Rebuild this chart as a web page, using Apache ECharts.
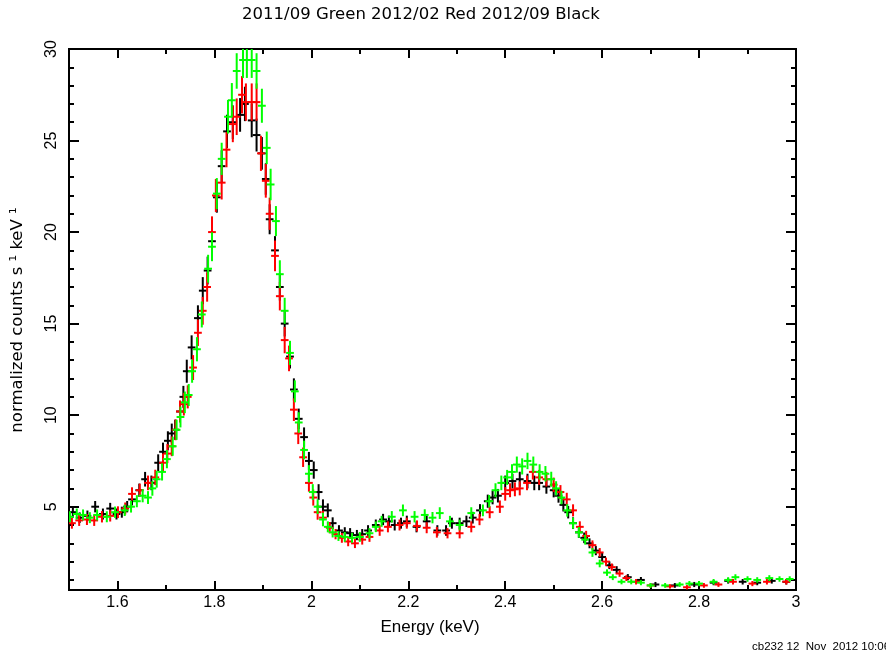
<!DOCTYPE html>
<html>
<head>
<meta charset="utf-8">
<script src="https://cdn.jsdelivr.net/npm/echarts@6/dist/echarts.min.js"></script>
<style>
html,body{margin:0;padding:0;background:#fff;}
#c{width:886px;height:657px;}
</style>
</head>
<body>
<div id="c"></div>
<script>
// ---------- DATA ----------
const titleText = "2011/09 Green 2012/02 Red 2012/09 Black";
const xTitle = "Energy (keV)";
const yTitle = "normalized counts s \u00B9 keV \u00B9";
const stampText = "cb232 12  Nov  2012 10:06";

const xMajorTicks = [1.6, 1.8, 2, 2.2, 2.4, 2.6, 2.8, 3];
const xMinorTicks = [1.5, 1.6, 1.7, 1.8, 1.9, 2, 2.1, 2.2, 2.3, 2.4, 2.5, 2.6, 2.7, 2.8, 2.9, 3];
const yMajorTicks = [5, 10, 15, 20, 25, 30];
const yMinorTicks = [1,2,3,4,5,6,7,8,9,10,11,12,13,14,15,16,17,18,19,20,21,22,23,24,25,26,27,28,29,30];

const binHalfWidth = 0.008; // keV

// 2012/09 (black)
const blackE = [1.508,1.522,1.538,1.554,1.570,1.585,1.598,1.609,1.620,1.630,1.645,1.657,1.670,1.684,1.694,1.704,1.712,1.719,1.729,1.736,1.743,1.753,1.766,1.776,1.786,1.795,1.805,1.815,1.826,1.838,1.853,1.863,1.877,1.887,1.898,1.906,1.914,1.925,1.935,1.945,1.956,1.964,1.974,1.985,1.995,2.005,2.015,2.024,2.034,2.044,2.057,2.069,2.080,2.094,2.105,2.117,2.133,2.148,2.160,2.172,2.185,2.197,2.217,2.238,2.260,2.278,2.290,2.306,2.320,2.333,2.348,2.364,2.374,2.385,2.400,2.415,2.430,2.446,2.460,2.470,2.485,2.500,2.510,2.520,2.530,2.540,2.552,2.563,2.574,2.587,2.600,2.615,2.630,2.653,2.680,2.710,2.750,2.790,2.830,2.860,2.890,2.920,2.950,2.980];
const blackY = [4.7,4.4,4.5,5.0,4.6,4.9,4.6,4.7,5.0,5.4,5.9,6.5,6.3,7.4,8.0,8.6,9.0,9.2,10.2,11.0,12.4,13.7,15.3,16.8,17.9,19.5,21.9,23.6,25.5,26.0,26.4,27.0,26.1,25.3,24.3,22.9,20.7,19.0,17.0,15.0,13.2,11.4,9.8,8.8,7.5,7.0,5.8,5.0,4.8,4.1,3.7,3.6,3.55,3.45,3.5,3.7,4.0,4.3,4.2,4.0,4.1,4.2,3.9,4.2,3.7,3.7,4.1,4.1,4.2,4.4,4.8,5.3,5.5,5.6,6.3,6.4,6.5,6.4,6.3,6.3,6.1,5.9,5.6,5.1,4.7,4.1,3.6,3.3,3.0,2.6,2.25,1.8,1.55,1.15,1.0,0.75,0.7,0.75,0.85,0.95,0.9,0.85,0.95,0.9];
const blackErr = [0.30,0.29,0.29,0.31,0.30,0.31,0.30,0.30,0.31,0.33,0.36,0.40,0.40,0.46,0.50,0.52,0.54,0.55,0.58,0.60,0.63,0.66,0.70,0.74,0.76,0.79,0.84,0.87,0.91,0.92,0.92,0.94,0.92,0.90,0.89,0.86,0.82,0.78,0.74,0.70,0.65,0.61,0.56,0.53,0.49,0.47,0.43,0.40,0.38,0.32,0.29,0.28,0.28,0.28,0.28,0.29,0.30,0.31,0.31,0.30,0.30,0.31,0.30,0.31,0.29,0.29,0.30,0.30,0.31,0.32,0.34,0.36,0.37,0.37,0.40,0.40,0.41,0.40,0.40,0.40,0.39,0.39,0.38,0.36,0.34,0.32,0.30,0.29,0.27,0.25,0.24,0.21,0.20,0.17,0.16,0.14,0.13,0.14,0.14,0.15,0.15,0.14,0.15,0.15];

// 2012/02 (red)
const redE = [1.506,1.521,1.537,1.552,1.568,1.585,1.601,1.616,1.630,1.646,1.663,1.678,1.694,1.703,1.712,1.720,1.729,1.737,1.745,1.756,1.766,1.776,1.785,1.795,1.803,1.815,1.825,1.838,1.846,1.857,1.865,1.877,1.887,1.896,1.906,1.914,1.925,1.935,1.945,1.954,1.964,1.973,1.983,1.995,2.004,2.013,2.024,2.038,2.050,2.063,2.076,2.090,2.105,2.120,2.141,2.158,2.182,2.197,2.218,2.238,2.259,2.281,2.306,2.330,2.347,2.368,2.389,2.400,2.410,2.420,2.430,2.445,2.457,2.470,2.485,2.500,2.514,2.527,2.540,2.554,2.567,2.580,2.595,2.608,2.620,2.636,2.650,2.670,2.700,2.740,2.775,2.810,2.840,2.870,2.910,2.940,2.980];
const redY = [4.1,4.25,4.3,4.25,4.45,4.5,4.7,4.9,5.7,5.9,6.3,6.6,7.4,7.9,8.3,9.2,10.2,10.6,11.0,12.6,14.5,15.7,17.0,20.0,22.0,22.7,24.5,25.9,26.3,27.5,27.1,27.1,27.1,24.3,22.8,21.0,18.7,16.5,14.1,13.1,10.3,9.0,7.7,6.3,5.5,4.7,4.4,3.85,3.5,3.3,3.1,3.0,3.2,3.35,3.7,3.9,4.0,4.1,3.95,3.85,3.6,3.55,3.55,3.9,4.3,4.7,5.0,5.7,5.9,5.95,6.0,6.3,6.9,6.6,6.5,6.2,5.8,5.4,4.8,3.9,3.4,2.9,2.5,2.0,1.7,1.35,1.1,0.9,0.7,0.65,0.6,0.7,0.75,0.9,0.8,0.9,0.9];
const redErr = [0.30,0.30,0.30,0.30,0.31,0.31,0.32,0.33,0.36,0.36,0.40,0.42,0.50,0.52,0.54,0.57,0.60,0.62,0.63,0.68,0.72,0.76,0.80,0.86,0.90,0.92,0.96,0.99,1.00,1.02,1.02,1.02,1.02,0.96,0.92,0.88,0.84,0.78,0.72,0.70,0.62,0.58,0.53,0.48,0.44,0.41,0.38,0.30,0.28,0.27,0.26,0.26,0.27,0.27,0.29,0.30,0.30,0.30,0.30,0.30,0.29,0.28,0.28,0.30,0.31,0.33,0.34,0.37,0.38,0.38,0.38,0.40,0.42,0.41,0.40,0.39,0.38,0.36,0.33,0.30,0.28,0.26,0.24,0.22,0.20,0.18,0.16,0.15,0.13,0.12,0.12,0.13,0.13,0.15,0.14,0.15,0.15];

// 2011/09 (green)
const greenE = [1.502,1.516,1.529,1.543,1.558,1.578,1.595,1.615,1.628,1.640,1.652,1.663,1.672,1.681,1.692,1.702,1.714,1.722,1.730,1.739,1.747,1.754,1.764,1.774,1.787,1.795,1.805,1.815,1.828,1.836,1.846,1.859,1.867,1.877,1.887,1.898,1.908,1.916,1.927,1.935,1.945,1.956,1.966,1.974,1.985,1.995,2.003,2.013,2.024,2.034,2.044,2.056,2.069,2.084,2.100,2.120,2.133,2.145,2.166,2.189,2.213,2.234,2.250,2.265,2.286,2.306,2.330,2.354,2.367,2.380,2.392,2.404,2.414,2.424,2.435,2.446,2.458,2.471,2.483,2.495,2.505,2.516,2.528,2.540,2.552,2.565,2.580,2.595,2.610,2.622,2.640,2.660,2.680,2.700,2.730,2.760,2.780,2.800,2.830,2.860,2.875,2.900,2.920,2.945,2.966,2.987];
const greenY = [4.45,4.6,4.55,4.4,4.55,4.45,4.7,4.8,5.0,5.3,5.6,5.5,6.0,6.5,6.9,7.6,8.3,9.2,9.9,10.7,11.1,12.4,13.6,15.5,18.0,19.2,22.1,24.0,26.3,27.2,28.8,29.4,29.4,29.4,28.8,26.9,24.6,22.6,20.6,17.7,15.7,13.4,11.3,9.6,8.1,6.8,5.8,5.0,4.3,3.9,3.6,3.4,3.35,3.3,3.35,3.55,3.9,4.2,4.45,4.8,4.45,4.55,4.4,4.65,4.2,4.0,4.65,4.8,5.3,5.9,6.3,6.6,6.9,7.3,7.2,7.5,7.3,6.9,6.8,6.5,6.0,5.5,4.8,4.1,3.6,3.2,2.5,1.9,1.4,1.15,0.9,0.9,0.85,0.7,0.7,0.75,0.8,0.8,0.9,1.0,1.15,1.05,1.0,1.1,1.05,1.05];
const greenErr = [0.30,0.30,0.30,0.30,0.30,0.30,0.31,0.31,0.32,0.33,0.36,0.35,0.40,0.46,0.47,0.50,0.52,0.55,0.57,0.59,0.60,0.63,0.66,0.71,0.76,0.79,0.85,0.88,0.92,0.94,0.97,0.98,0.98,0.98,0.97,0.93,0.89,0.86,0.82,0.76,0.71,0.66,0.60,0.56,0.51,0.47,0.43,0.40,0.37,0.30,0.28,0.27,0.27,0.27,0.27,0.28,0.29,0.30,0.31,0.32,0.31,0.31,0.31,0.32,0.30,0.29,0.32,0.32,0.34,0.38,0.40,0.41,0.42,0.44,0.44,0.45,0.44,0.42,0.42,0.41,0.39,0.37,0.34,0.31,0.29,0.27,0.24,0.21,0.18,0.16,0.14,0.14,0.14,0.13,0.13,0.13,0.14,0.14,0.15,0.15,0.16,0.15,0.15,0.16,0.15,0.15];

// ---------- CHART ----------
const X_MIN = 1.5, X_MAX = 3, Y_MIN = 0.45, Y_MAX = 30;
const FONT = "Liberation Sans, Arial, sans-serif";
const WIDE_FONT = "DejaVu Sans, Verdana, sans-serif";

function toData(E, Y, Er) {
  return E.map((e, i) => [e, Y[i], Er[i]]);
}

function crossRenderer(color) {
  return function (params, api) {
    const x = api.value(0), y = api.value(1), er = api.value(2);
    const c = api.coord([x, y]);
    const l = api.coord([x - binHalfWidth, y]);
    const r = api.coord([x + binHalfWidth, y]);
    const t = api.coord([x, y + er]);
    const b = api.coord([x, y - er]);
    const st = { stroke: color, lineWidth: 2 };
    return {
      type: 'group',
      children: [
        { type: 'line', shape: { x1: l[0], y1: c[1], x2: r[0], y2: c[1] }, style: st },
        { type: 'line', shape: { x1: c[0], y1: t[1], x2: c[0], y2: b[1] }, style: st }
      ]
    };
  };
}

function xAx(pos, ticks, len, showLabel) {
  return {
    type: 'value', position: pos, min: X_MIN, max: X_MAX,
    axisLine: { show: true, onZero: false, lineStyle: { color: '#000', width: 2 } },
    axisTick: { show: true, inside: true, length: len, customValues: ticks, lineStyle: { color: '#000', width: 2 } },
    axisLabel: showLabel ? { show: true, customValues: xMajorTicks, color: '#000', fontSize: 16, fontFamily: FONT, margin: 5,
      formatter: v => String(Math.round(v * 10) / 10) } : { show: false },
    splitLine: { show: false }
  };
}
function yAx(pos, ticks, len, showLabel) {
  return {
    type: 'value', position: pos, min: Y_MIN, max: Y_MAX,
    axisLine: { show: true, onZero: false, lineStyle: { color: '#000', width: 2 } },
    axisTick: { show: true, inside: true, length: len, customValues: ticks, lineStyle: { color: '#000', width: 2 } },
    axisLabel: showLabel ? { show: true, customValues: yMajorTicks, rotate: 90, color: '#000', fontSize: 16, fontFamily: FONT, margin: 9 } : { show: false },
    splitLine: { show: false }
  };
}

const chart = echarts.init(document.getElementById('c'), null, { renderer: 'canvas' });
chart.setOption({
  animation: false,
  backgroundColor: '#fff',
  grid: { left: 69, right: 90, top: 49, bottom: 67, containLabel: false },
  xAxis: [
    xAx('bottom', xMinorTicks, 5, false),
    xAx('bottom', xMajorTicks, 9, true),
    xAx('top', xMinorTicks, 5, false),
    xAx('top', xMajorTicks, 9, false)
  ],
  yAxis: [
    yAx('left', yMinorTicks, 5, false),
    yAx('left', yMajorTicks, 10, true),
    yAx('right', yMinorTicks, 5, false),
    yAx('right', yMajorTicks, 10, false)
  ],
  graphic: [
    { type: 'text', x: 421, y: 15, style: { text: titleText, font: '16.5px ' + WIDE_FONT, fill: '#000', align: 'center', verticalAlign: 'middle' } },
    { type: 'text', x: 430, y: 627, style: { text: xTitle, font: '17px ' + FONT, fill: '#000', align: 'center', verticalAlign: 'middle' } },
    { type: 'text', x: 18, y: 320, rotation: Math.PI / 2, style: { text: yTitle, font: '16.5px ' + WIDE_FONT, fill: '#000', align: 'center', verticalAlign: 'middle' } },
    { type: 'text', x: 752, y: 647, style: { text: stampText, font: '11.5px ' + FONT, fill: '#000', verticalAlign: 'middle' } }
  ],
  series: [
    { type: 'custom', name: '2012/09', xAxisIndex: 0, yAxisIndex: 0, clip: true, renderItem: crossRenderer('#000000'), data: toData(blackE, blackY, blackErr) },
    { type: 'custom', name: '2012/02', xAxisIndex: 0, yAxisIndex: 0, clip: true, renderItem: crossRenderer('#ff0000'), data: toData(redE, redY, redErr) },
    { type: 'custom', name: '2011/09', xAxisIndex: 0, yAxisIndex: 0, clip: true, renderItem: crossRenderer('#00ff00'), data: toData(greenE, greenY, greenErr) }
  ]
});
</script>
</body>
</html>
